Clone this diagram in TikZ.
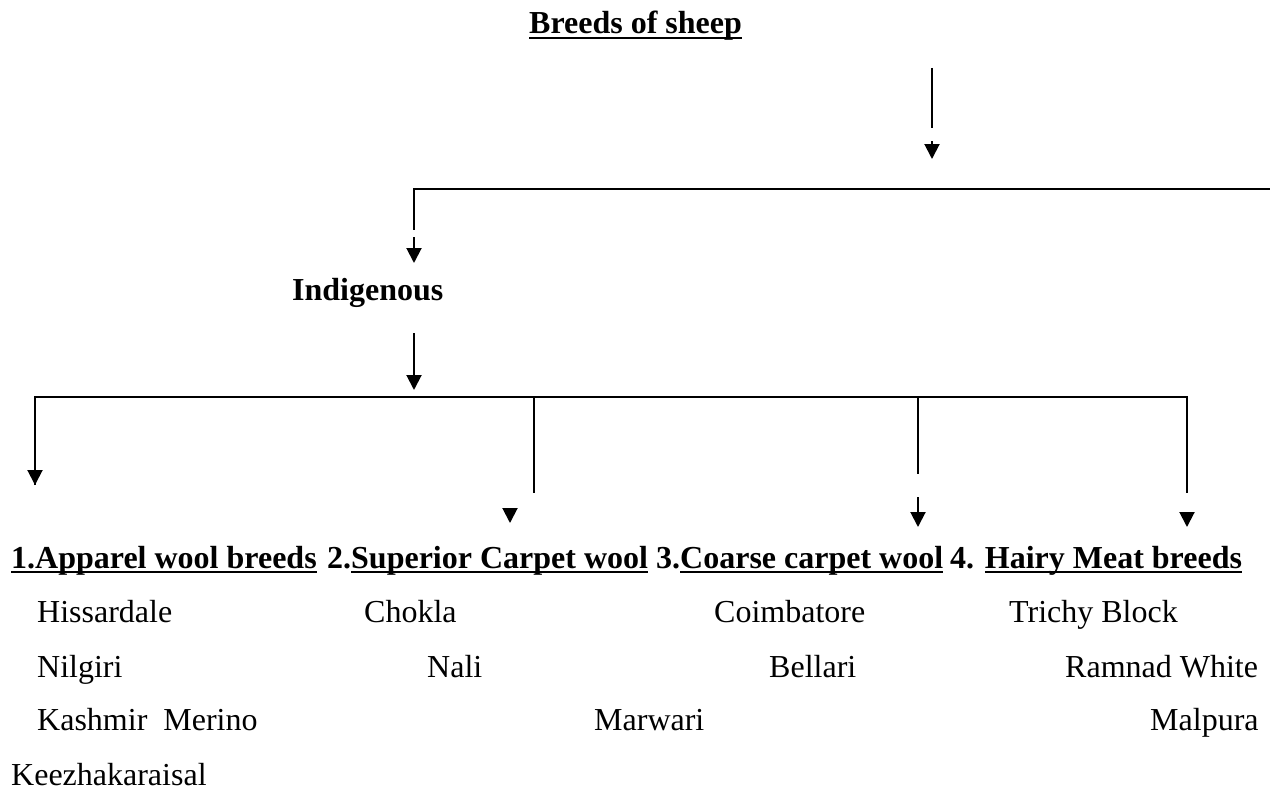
\documentclass[tikz,border=0pt]{standalone}
\usepackage{fontspec}
\setmainfont{Liberation Serif}
\usetikzlibrary{arrows.meta}
\newcommand\myul[1]{\setbox0\hbox{#1}\rlap{\rule[-5pt]{\wd0}{2pt}}\box0}
\tikzset{
  ln/.style={line width=2pt, line join=miter},
  arr/.style={line width=2pt, -{Triangle[width=15pt,length=15pt]}},
  txt/.style={anchor=base west, inner sep=0pt, font=\fontsize{32pt}{38pt}\selectfont},
  bld/.style={txt, font=\fontsize{32pt}{38pt}\selectfont\bfseries}
}
\begin{document}
\begin{tikzpicture}[x=1pt,y=-1pt]
\useasboundingbox (0,0) rectangle (1270,792);
% texts
\node[bld] (ttl) at (529,34) {\myul{Breeds of sheep}};
\node[bld] (indig) at (292,300) {Indigenous};
\node[bld] (h1) at (11,568) {\myul{1.Apparel wool breeds}};
\node[bld] (h2) at (327,568) {2.\myul{Superior Carpet wool}};
\node[bld] (h3) at (656,568) {3.\myul{Coarse carpet wool}};
\node[bld] (h4) at (950,568) {4. \myul{Hairy Meat breeds}};
\node[txt] (a1) at (37,622) {Hissardale};
\node[txt] (a2) at (37,677) {Nilgiri};
\node[txt] (a3) at (37,730) {Kashmir\ \ Merino};
\node[txt] (a4) at (11,785) {Keezhakaraisal};
\node[txt] (b1) at (364,622) {Chokla};
\node[txt] (b2) at (427,677) {Nali};
\node[txt] (b3) at (594,730) {Marwari};
\node[txt] (c1) at (714,622) {Coimbatore};
\node[txt] (c2) at (769,677) {Bellari};
\node[txt] (d1) at (1009,622) {Trichy Block};
\node[txt] (d2) at (1065,677) {Ramnad White};
\node[txt] (d3) at (1150,730) {Malpura};
% top arrow
\coordinate (t1) at (932,68);
\coordinate (t2) at (932,128);
\coordinate (t3) at (932,141);
\coordinate (t4) at (932,159);
\draw[ln] (t1) -- (t2);
\draw[arr] (t3) -- (t4);
% upper branch
\coordinate (uR) at (1270,189);
\coordinate (uL) at (414,189);
\coordinate (u1) at (414,230);
\coordinate (u2) at (414,237);
\coordinate (u3) at (414,263);
\draw[ln] (uR) -- (uL) -- (u1);
\draw[arr] (u2) -- (u3);
% indigenous arrow
\coordinate (i1) at (414,333);
\coordinate (i2) at (414,390);
\draw[arr] (i1) -- (i2);
% lower branch
\coordinate (lL) at (35,397);
\coordinate (lR) at (1187,397);
\coordinate (lLend) at (35,485);
\coordinate (lRend) at (1187,493);
\draw[ln] (lLend) -- (lL) -- (lR) -- (lRend);
\draw[arr] (lL) -- (lLend);
% branch 2
\coordinate (b2t) at (534,397);
\coordinate (b2e) at (534,493);
\draw[ln] (b2t) -- (b2e);
\coordinate (b2a) at (510,508);
\coordinate (b2b) at (510,523);
\draw[arr] (b2a) -- (b2b);
% branch 3
\coordinate (b3t) at (918,397);
\coordinate (b3e) at (918,474);
\draw[ln] (b3t) -- (b3e);
\coordinate (b3a) at (918,497);
\coordinate (b3b) at (918,527);
\draw[arr] (b3a) -- (b3b);
% branch 4
\coordinate (b4a) at (1187,512);
\coordinate (b4b) at (1187,527);
\draw[arr] (b4a) -- (b4b);
\end{tikzpicture}
\end{document}
